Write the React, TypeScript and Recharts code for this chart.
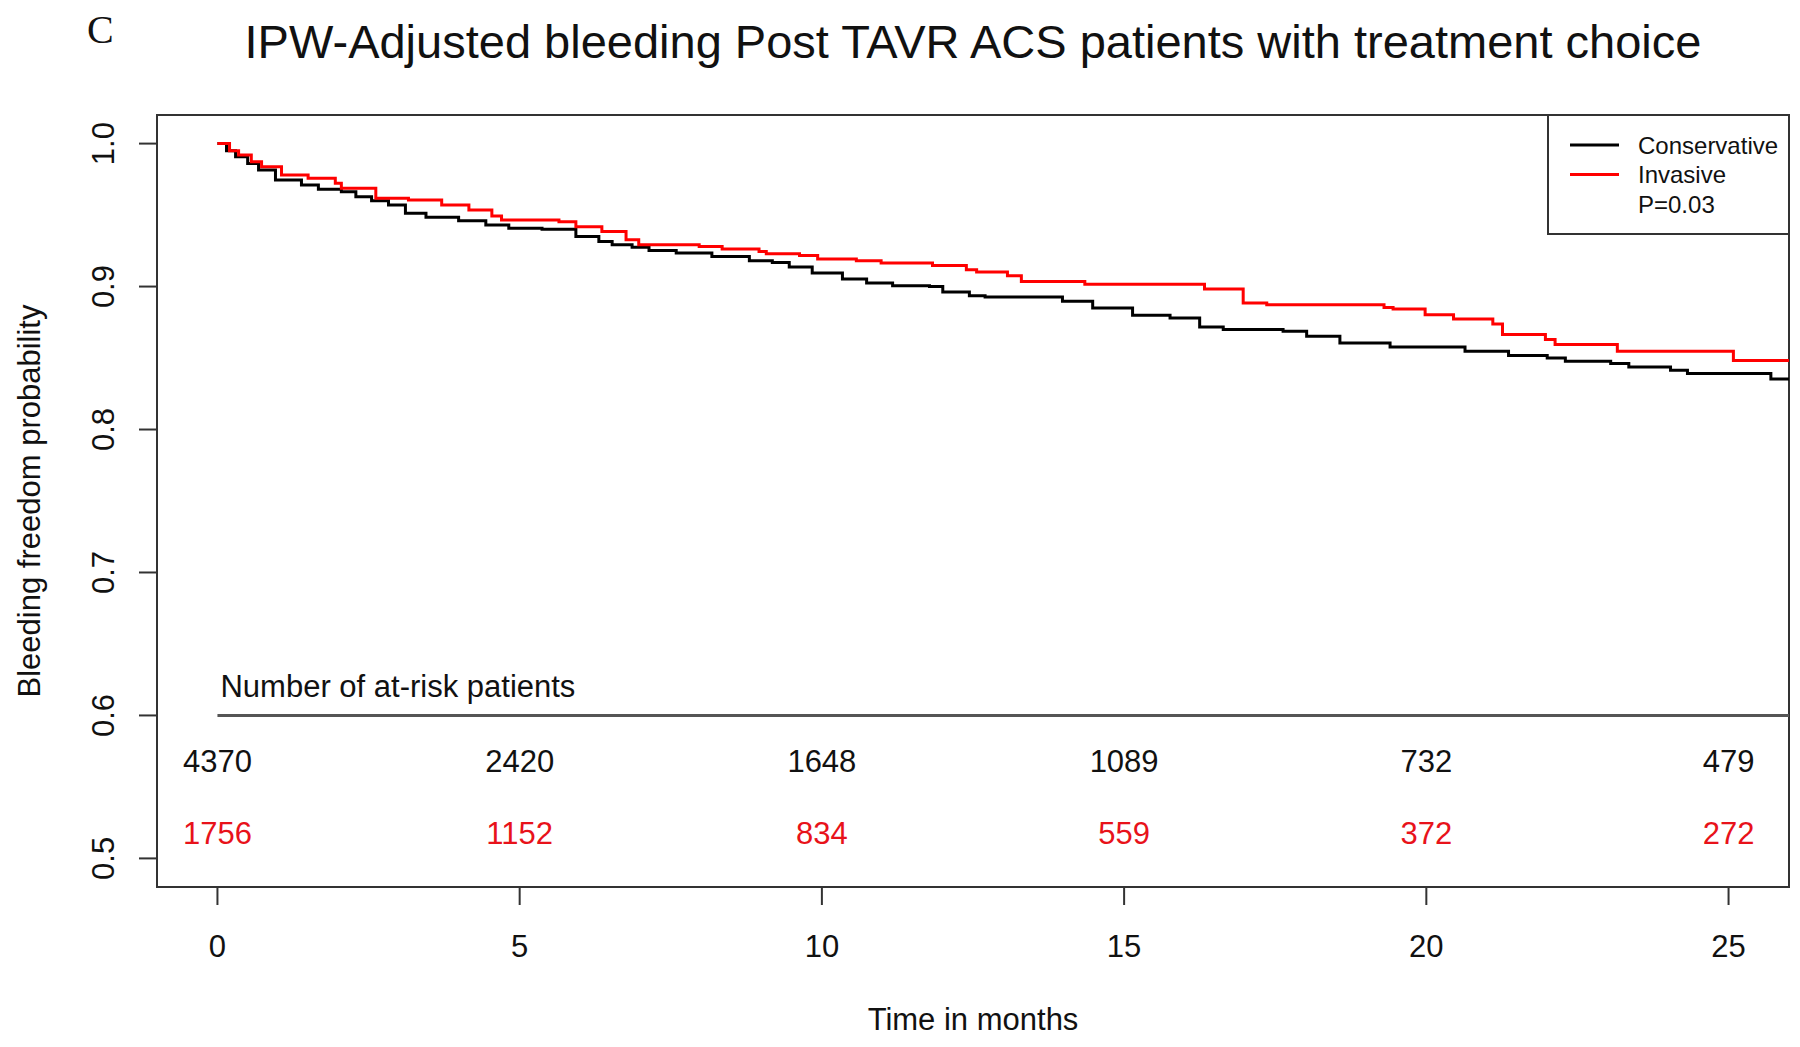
import React from 'react';
import {
  ComposedChart,
  Line,
  Scatter,
  XAxis,
  YAxis,
  ReferenceArea,
  ReferenceLine,
} from 'recharts';

// Kaplan-Meier steps (months, bleeding-free probability)
const conservativeTime = [
  0, 0.15, 0.3, 0.5, 0.68, 0.96, 1.39, 1.67, 2.05, 2.29, 2.55, 2.83, 3.11, 3.45, 3.99,
  4.44, 4.82, 5.37, 5.93, 6.31, 6.53, 6.86, 7.14, 7.59, 8.18, 8.8, 9.18, 9.46, 9.84,
  10.34, 10.74, 11.17, 11.78, 12.0, 12.44, 12.7, 13.98, 14.48, 15.14, 15.76, 16.25,
  16.64, 17.63, 18.02, 18.57, 19.4, 20.64, 21.36, 22.0, 22.3, 23.05, 23.35, 24.04,
  24.32, 25.7, 26,
];
const conservativeSurv = [
  1.0, 0.995, 0.9908, 0.986, 0.9815, 0.9745, 0.971, 0.968, 0.9664, 0.9629, 0.9601,
  0.9571, 0.9513, 0.9485, 0.9461, 0.9431, 0.9408, 0.9401, 0.935, 0.9315, 0.9292,
  0.9275, 0.9252, 0.9234, 0.921, 0.918, 0.9168, 0.9136, 0.9094, 0.9052, 0.9024,
  0.9006, 0.9001, 0.8962, 0.8936, 0.8927, 0.8897, 0.885, 0.88, 0.878, 0.8717, 0.8699,
  0.8687, 0.8652, 0.8606, 0.8578, 0.8547, 0.8517, 0.8501, 0.8477, 0.8461, 0.8438,
  0.8414, 0.8391, 0.8354, 0.8354,
];

const invasiveTime = [
  0, 0.2, 0.35, 0.56, 0.73, 1.06, 1.5, 1.95, 2.05, 2.62, 3.16, 3.71, 4.16, 4.54, 4.7,
  5.65, 5.93, 6.36, 6.76, 6.97, 7.97, 8.35, 8.96, 9.08, 9.63, 9.93, 10.57, 10.98,
  11.83, 12.39, 12.56, 13.07, 13.3, 14.35, 16.33, 16.97, 17.36, 19.3, 19.45, 19.98,
  20.45, 21.1, 21.26, 21.97, 22.13, 23.16, 25.08, 26,
];
const invasiveSurv = [
  1.0, 0.995, 0.992, 0.9873, 0.9838, 0.978, 0.9757, 0.9722, 0.9687, 0.9618, 0.9606,
  0.9571, 0.9536, 0.9494, 0.9466, 0.9454, 0.9419, 0.9385, 0.9327, 0.9292, 0.928,
  0.9262, 0.9245, 0.9229, 0.9217, 0.9192, 0.918, 0.9164, 0.9147, 0.9117, 0.9101,
  0.9075, 0.9036, 0.9017, 0.8983, 0.8885, 0.8873, 0.8854, 0.8843, 0.8803, 0.8773,
  0.8738, 0.8664, 0.8629, 0.8594, 0.8547, 0.8482, 0.8482,
];

// number at risk table
const riskTimes = [0, 5, 10, 15, 20, 25];
const conservativeAtRisk = [4370, 2420, 1648, 1089, 732, 479];
const invasiveAtRisk = [1756, 1152, 834, 559, 372, 272];

const xTicks = [0, 5, 10, 15, 20, 25];
const yTicks = [0.5, 0.6, 0.7, 0.8, 0.9, 1.0];

const FONT = '"Liberation Sans", Arial, Helvetica, sans-serif';
const RED = '#ff0000';
const RED_TEXT = '#e8121a';

const conservativeData = conservativeTime.map((t, i) => ({ t, v: conservativeSurv[i] }));
const invasiveData = invasiveTime.map((t, i) => ({ t, v: invasiveSurv[i] }));
const riskRowConservative = riskTimes.map((t, i) => ({ t, v: 0.568, n: conservativeAtRisk[i] }));
const riskRowInvasive = riskTimes.map((t, i) => ({ t, v: 0.518, n: invasiveAtRisk[i] }));
const riskHeading = [{ t: 0.05, v: 0.621, n: 'Number of at-risk patients' }];

const W = 1784;
const H = 1039;

function XTick({ x, y, payload }: any) {
  return (
    <text x={x} y={y + 50} textAnchor="middle" fontSize={31} fontFamily={FONT} fill="#111">
      {payload.value}
    </text>
  );
}

function YTick({ x, y, payload }: any) {
  const tx = x - 23;
  return (
    <text
      x={tx}
      y={y}
      textAnchor="middle"
      fontSize={31}
      fontFamily={FONT}
      fill="#111"
      transform={`rotate(-90, ${tx}, ${y})`}
    >
      {Number(payload.value).toFixed(1)}
    </text>
  );
}

const riskText = (color: string, anchor: string) => (props: any) => {
  const { cx, cy, payload } = props;
  return (
    <text
      x={cx}
      y={cy}
      dy="0.36em"
      textAnchor={anchor}
      fontSize={31}
      fontFamily={FONT}
      fill={color}
    >
      {payload.n}
    </text>
  );
};

export default function App() {
  return (
    <div style={{ position: 'relative', width: W, height: H, background: '#fff' }}>
      <ComposedChart
        width={W}
        height={H}
        margin={{ top: 107, right: 3, bottom: 90, left: 79 }}
      >
        <XAxis
          dataKey="t"
          type="number"
          domain={[-1, 26]}
          ticks={xTicks}
          interval={0}
          allowDataOverflow
          axisLine={false}
          tickLine={{ stroke: '#333', strokeWidth: 2 }}
          tickSize={18}
          tick={XTick}
          height={70}
        />
        <YAxis
          type="number"
          domain={[0.48, 1.02]}
          ticks={yTicks}
          interval={0}
          allowDataOverflow
          axisLine={false}
          tickLine={{ stroke: '#333', strokeWidth: 2 }}
          tickSize={18}
          tick={YTick}
          width={70}
        />
        <ReferenceLine
          segment={[
            { x: 0, y: 0.6 },
            { x: 26, y: 0.6 },
          ]}
          stroke="#555"
          strokeWidth={3}
          ifOverflow="visible"
        />
        <Line
          data={conservativeData}
          dataKey="v"
          type="stepAfter"
          stroke="#000"
          strokeWidth={3}
          dot={false}
          isAnimationActive={false}
        />
        <Line
          data={invasiveData}
          dataKey="v"
          type="stepAfter"
          stroke={RED}
          strokeWidth={3}
          dot={false}
          isAnimationActive={false}
        />
        <Scatter
          data={riskHeading}
          dataKey="v"
          shape={riskText('#111', 'start')}
          isAnimationActive={false}
        />
        <Scatter
          data={riskRowConservative}
          dataKey="v"
          shape={riskText('#111', 'middle')}
          isAnimationActive={false}
        />
        <Scatter
          data={riskRowInvasive}
          dataKey="v"
          shape={riskText(RED_TEXT, 'middle')}
          isAnimationActive={false}
        />
        <ReferenceArea
          x1={-1}
          x2={26}
          y1={0.48}
          y2={1.02}
          fill="none"
          stroke="#333"
          strokeWidth={2}
          ifOverflow="visible"
        />
      </ComposedChart>

      <svg
        width={W}
        height={H}
        style={{ position: 'absolute', left: 0, top: 0, pointerEvents: 'none' }}
      >
        <text x={79} y={35} fontSize={40} fontFamily='"Liberation Serif", "Times New Roman", serif' fill="#111">
          C
        </text>
        <text x={965} y={50} textAnchor="middle" fontSize={47} fontFamily={FONT} fill="#111">
          IPW-Adjusted bleeding Post TAVR ACS patients with treatment choice
        </text>
        <text
          x={32}
          y={493}
          textAnchor="middle"
          fontSize={31}
          fontFamily={FONT}
          fill="#111"
          transform="rotate(-90, 32, 493)"
        >
          Bleeding freedom probability
        </text>
        <text x={965} y={1022} textAnchor="middle" fontSize={31} fontFamily={FONT} fill="#111">
          Time in months
        </text>

        {/* legend, top right corner of the plot box */}
        <g transform="translate(1540, 107)">
          <rect x={0} y={0} width={241} height={119} fill="#fff" stroke="#333" strokeWidth={2} />
          <line x1={22} x2={71} y1={30} y2={30} stroke="#000" strokeWidth={3} />
          <line x1={22} x2={71} y1={59.5} y2={59.5} stroke={RED} strokeWidth={3} />
          <text x={90} y={30} dy="0.36em" fontSize={24} fontFamily={FONT} fill="#111">
            Conservative
          </text>
          <text x={90} y={59.5} dy="0.36em" fontSize={24} fontFamily={FONT} fill="#111">
            Invasive
          </text>
          <text x={90} y={89} dy="0.36em" fontSize={24} fontFamily={FONT} fill="#111">
            P=0.03
          </text>
        </g>
      </svg>
    </div>
  );
}
